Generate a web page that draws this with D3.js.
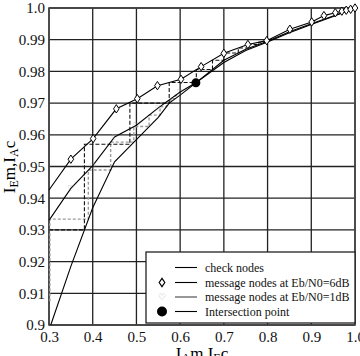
<!DOCTYPE html>
<html>
<head>
<meta charset="utf-8">
<script src="https://d3js.org/d3.v7.min.js"></script>
<style>
  body { margin: 0; background: #fff; }
</style>
</head>
<body>
<svg width="360" height="356"></svg>
<script>
// check node curve (plotted with swapped axes)
var checkX = [0.304, 0.35, 0.40, 0.45, 0.50, 0.55, 0.575, 0.60, 0.636, 0.70, 0.75, 0.80, 0.85, 0.90, 0.95, 1.0];
var checkY = [0.900, 0.9185, 0.937, 0.9515, 0.9585, 0.9655, 0.9700, 0.9725, 0.9764, 0.9835, 0.9870, 0.9895, 0.9925, 0.9950, 0.9975, 1.0];
// message nodes, Eb/N0 = 6dB
var msg6X = [0.3, 0.35, 0.401, 0.454, 0.502, 0.548, 0.602, 0.648, 0.70, 0.755, 0.798, 0.851, 0.901, 0.929, 0.955, 0.97, 0.98, 0.99, 1.0];
var msg6Y = [0.9426, 0.9523, 0.9588, 0.9682, 0.9714, 0.9755, 0.9775, 0.9815, 0.9857, 0.9885, 0.9897, 0.9933, 0.9956, 0.9976, 0.9985, 0.999, 0.9993, 0.9996, 1.0];
// message nodes, Eb/N0 = 1dB
var msg1X = [0.3, 0.35, 0.40, 0.45, 0.50, 0.55, 0.60, 0.636, 0.70, 0.75, 0.80, 0.85, 0.90, 0.95, 1.0];
var msg1Y = [0.933, 0.9431, 0.9503, 0.9593, 0.9630, 0.9685, 0.9735, 0.9764, 0.9828, 0.9866, 0.9893, 0.9922, 0.9948, 0.9973, 1.0];
// decoding trajectories (staircase corners)
var traj6X = [0.3, 0.381, 0.485, 0.575, 0.637, 0.674, 0.70, 0.733, 0.756, 0.78, 0.795];
var traj6Y = [0.93, 0.93, 0.957, 0.970, 0.9765, 0.9806, 0.9835, 0.9858, 0.9874, 0.9885, 0.9892];
var traj1X = [0.302, 0.39, 0.441, 0.494, 0.529, 0.554, 0.569, 0.579, 0.589, 0.598];
var traj1Y = [0.9075, 0.9334, 0.9489, 0.9577, 0.9626, 0.9662, 0.9689, 0.9704, 0.9714, 0.9724];
var crossPoint = [0.636, 0.9764];

var xTicks = [0.3, 0.4, 0.5, 0.6, 0.7, 0.8, 0.9, 1.0];
var yTicks = [0.9, 0.91, 0.92, 0.93, 0.94, 0.95, 0.96, 0.97, 0.98, 0.99, 1.0];
var xTickLabels = ["0.3", "0.4", "0.5", "0.6", "0.7", "0.8", "0.9", "1.0"];
var yTickLabels = ["0.9", "0.91", "0.92", "0.93", "0.94", "0.95", "0.96", "0.97", "0.98", "0.99", "1.0"];
var legendLabels = ["check nodes", "message nodes at Eb/N0=6dB", "message nodes at Eb/N0=1dB", "Intersection point"];

var serif = "'Liberation Serif', 'DejaVu Serif', serif";
var svg = d3.select("svg");
var x = d3.scaleLinear().domain([0.3, 1.0]).range([49, 355]);
var y = d3.scaleLinear().domain([0.9, 1.0]).range([325, 8]);

// grid
var grid = svg.append("g");
grid.selectAll(".gx").data(xTicks).enter().append("line")
    .attr("x1", d => x(d)).attr("x2", d => x(d))
    .attr("y1", y(0.9)).attr("y2", y(1.0))
    .attr("stroke", "#222").attr("stroke-width", 1.3);
grid.selectAll(".gy").data(yTicks).enter().append("line")
    .attr("y1", d => y(d)).attr("y2", d => y(d))
    .attr("x1", x(0.3)).attr("x2", x(1.0))
    .attr("stroke", "#222").attr("stroke-width", 1.3);
svg.append("rect")
    .attr("x", x(0.3)).attr("y", y(1.0))
    .attr("width", x(1.0) - x(0.3)).attr("height", y(0.9) - y(1.0))
    .attr("fill", "none").attr("stroke", "#444").attr("stroke-width", 1.6);

// axes (labels only)
var xAxis = d3.axisBottom(x).tickValues(xTicks).tickSize(0).tickPadding(6)
    .tickFormat((d, i) => xTickLabels[i]);
var yAxis = d3.axisLeft(y).tickValues(yTicks).tickSize(0).tickPadding(4)
    .tickFormat((d, i) => yTickLabels[i]);
var gx = svg.append("g").attr("transform", "translate(0," + y(0.9) + ")").call(xAxis);
var gy = svg.append("g").attr("transform", "translate(" + x(0.3) + ",0)").call(yAxis);
[gx, gy].forEach(function (g) {
    g.select(".domain").remove();
    g.selectAll("text").style("font-family", serif).style("font-size", "15px").attr("fill", "#111");
});

var plot = svg.append("g");

function stairPath(xs, ys) {
    var p = "M" + x(xs[0]) + "," + y(ys[0]);
    for (var i = 1; i < xs.length; i++) {
        p += "L" + x(xs[i - 1]) + "," + y(ys[i]) + "L" + x(xs[i]) + "," + y(ys[i]);
    }
    return p;
}
plot.append("path").attr("d", stairPath(traj1X, traj1Y))
    .attr("fill", "none").attr("stroke", "#9a9a9a").attr("stroke-width", 1.4).attr("stroke-dasharray", "3,2");
plot.append("path").attr("d", stairPath(traj6X, traj6Y))
    .attr("fill", "none").attr("stroke", "#111").attr("stroke-width", 1.1).attr("stroke-dasharray", "4,2");

var line = d3.line().x(d => x(d[0])).y(d => y(d[1]));
function pairs(xs, ys) { return xs.map((v, i) => [v, ys[i]]); }

plot.append("path").datum(pairs(checkX, checkY)).attr("d", line)
    .attr("fill", "none").attr("stroke", "#000").attr("stroke-width", 1.1);
plot.append("path").datum(pairs(msg1X, msg1Y)).attr("d", line)
    .attr("fill", "none").attr("stroke", "#000").attr("stroke-width", 1.1);
plot.append("path").datum(pairs(msg6X, msg6Y)).attr("d", line)
    .attr("fill", "none").attr("stroke", "#000").attr("stroke-width", 1.1);

// 1dB markers
plot.selectAll(".m1").data(pairs(msg1X, msg1Y).slice(1, 7)).enter().append("text")
    .attr("x", d => x(d[0])).attr("y", d => y(d[1]) + 3)
    .attr("text-anchor", "middle").style("font-size", "8px")
    .style("font-family", "'DejaVu Sans'").attr("fill", "#aaa").text("\u2661");

// 6dB diamonds
var diamond = "M0,-4.2L2.8,0L0,4.2L-2.8,0Z";
plot.selectAll(".m6").data(pairs(msg6X, msg6Y).slice(1)).enter().append("path")
    .attr("d", diamond)
    .attr("transform", d => "translate(" + x(d[0]) + "," + y(d[1]) + ")")
    .attr("fill", "#fff").attr("stroke", "#000").attr("stroke-width", 1);

plot.append("circle").attr("cx", x(crossPoint[0])).attr("cy", y(crossPoint[1]))
    .attr("r", 4.5).attr("fill", "#000");

// axis titles
svg.append("text").attr("x", 202).attr("y", 359).attr("text-anchor", "middle")
    .style("font-family", serif).style("font-size", "17px")
    .html('I<tspan style="font-size:12px" dy="3">A</tspan><tspan dy="-3">m,I</tspan><tspan style="font-size:12px" dy="3">E</tspan><tspan dy="-3">c</tspan>');
svg.append("text").attr("transform", "translate(15,167) rotate(-90)").attr("text-anchor", "middle")
    .style("font-family", serif).style("font-size", "17px")
    .html('I<tspan style="font-size:12px" dy="3">E</tspan><tspan dy="-3">m,I</tspan><tspan style="font-size:12px" dy="3">A</tspan><tspan dy="-3">c</tspan>');

// legend
var lg = svg.append("g");
lg.append("rect").attr("x", 146).attr("y", 252).attr("width", 209).attr("height", 71)
    .attr("fill", "#fff").attr("stroke", "#222").attr("stroke-width", 1.3);
var rowY = [267.5, 282.5, 297, 311.5];
lg.selectAll(".ll").data(legendLabels).enter().append("line")
    .attr("x1", 175).attr("x2", 197)
    .attr("y1", (d, i) => rowY[i]).attr("y2", (d, i) => rowY[i])
    .attr("stroke", (d, i) => i === 2 ? "#444" : "#000").attr("stroke-width", 1.1);
lg.selectAll(".lt").data(legendLabels).enter().append("text")
    .attr("x", 205).attr("y", (d, i) => rowY[i] + 4.2)
    .style("font-family", serif).style("font-size", "12px").attr("fill", "#111").text(d => d);
lg.append("path").attr("d", diamond).attr("transform", "translate(162," + rowY[1] + ")")
    .attr("fill", "#fff").attr("stroke", "#000").attr("stroke-width", 1.2);
lg.append("text").attr("x", 162).attr("y", rowY[2] + 3).attr("text-anchor", "middle")
    .style("font-size", "9px").style("font-family", "'DejaVu Sans'").attr("fill", "#aaa").text("\u2661");
lg.append("circle").attr("cx", 162).attr("cy", rowY[3]).attr("r", 5).attr("fill", "#000");
</script>
</body>
</html>
